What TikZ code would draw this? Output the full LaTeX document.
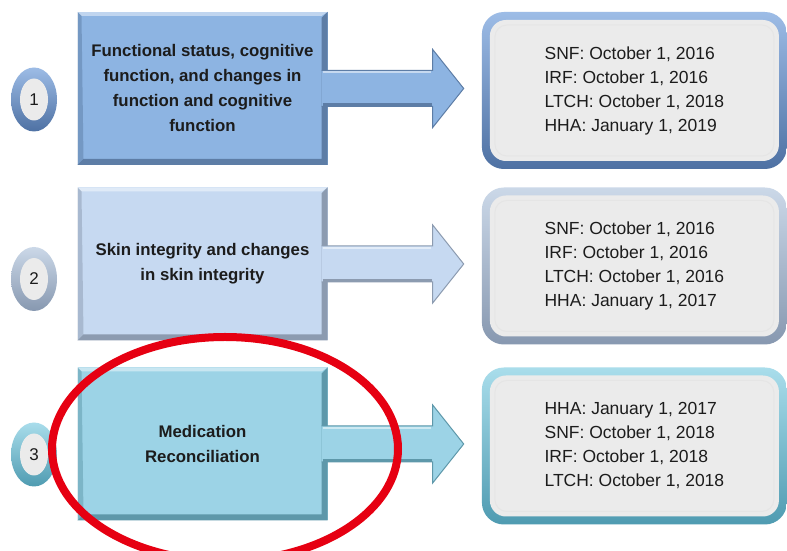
\documentclass[tikz,border=0pt]{standalone}
\usepackage{fontspec}
\setmainfont{Liberation Sans}
\usetikzlibrary{positioning,calc,shapes.geometric}

\definecolor{boxa}{HTML}{8DB4E2}
\definecolor{boxadark}{HTML}{5D7DA6}
\definecolor{boxb}{HTML}{C6D9F1}
\definecolor{boxbdark}{HTML}{8C9BB0}
\definecolor{boxc}{HTML}{9CD3E6}
\definecolor{boxcdark}{HTML}{5E98AA}
\definecolor{datefill}{HTML}{EBEBEB}
\definecolor{rimatop}{HTML}{9DBCE6}
\definecolor{rimabot}{HTML}{4E71A3}
\definecolor{rimbtop}{HTML}{CBD8E8}
\definecolor{rimbbot}{HTML}{8798B0}
\definecolor{rimctop}{HTML}{A9DDEB}
\definecolor{rimcbot}{HTML}{4F9BB1}
\definecolor{ringred}{HTML}{E60012}
\definecolor{ink}{HTML}{1C1C1C}

\newcommand{\blockarrow}[4]{%
\filldraw[fill=#3,draw=#4,line width=1pt] ($(#1.east)+(-6,18)$) -- ($(#1.east -| #2.west)+(-49,18)$) -- ($(#1.east -| #2.west)+(-49,39)$) -- ($(#1.east -| #2.west)+(-18,0)$) -- ($(#1.east -| #2.west)+(-49,-39)$) -- ($(#1.east -| #2.west)+(-49,-18)$) -- ($(#1.east)+(-6,-18)$);
\draw[white,opacity=.5,line width=2pt] ($(#1.east)+(-5,16)$) -- ($(#1.east -| #2.west)+(-51,16)$);
\draw[#4,line width=3pt] ($(#1.east)+(-5,-16.5)$) -- ($(#1.east -| #2.west)+(-50,-16.5)$);
}

\begin{document}
\begin{tikzpicture}[x=1pt,y=1pt,
  topic/.style 2 args={fill=#1,minimum width=250pt,minimum height=153pt,
    align=center,inner sep=0pt,text=ink,font=\fontsize{16.8}{25}\selectfont\bfseries,
    path picture={
      \fill[#2] (path picture bounding box.north east) -- (path picture bounding box.south east)
        -- (path picture bounding box.south west) -- ++(6,6)
        -- ($(path picture bounding box.south east)+(-6,6)$)
        -- ($(path picture bounding box.north east)+(-6,-6)$) -- cycle;
      \fill[white,opacity=.45] (path picture bounding box.north west) -- (path picture bounding box.north east)
        -- ++(-6,-4) -- ($(path picture bounding box.north west)+(4,-4)$) -- cycle;
      \fill[#2,opacity=.5] (path picture bounding box.north west) -- ++(4,-4)
        -- ($(path picture bounding box.south west)+(6,6)$) -- (path picture bounding box.south west) -- cycle;
    }},
  datebox/.style 2 args={minimum width=305pt,minimum height=157pt,rounded corners=22pt,
    top color=#1,bottom color=#2,align=left,text=ink,font=\fontsize{17.5}{24}\selectfont,
    path picture={
      \fill[datefill,rounded corners=16pt] ($(path picture bounding box.south west)+(8,8)$)
        rectangle ($(path picture bounding box.north east)+(-8,-8)$);
      \draw[white!80!gray,line width=1pt,rounded corners=12pt] ($(path picture bounding box.south west)+(13,13)$)
        rectangle ($(path picture bounding box.north east)+(-13,-13)$);
    }},
  disc/.style 2 args={ellipse,minimum width=46pt,minimum height=64pt,inner sep=0pt,
    top color=#1,bottom color=#2,text=ink,font=\fontsize{17}{20}\selectfont,
    path picture={\fill[datefill] (path picture bounding box.center) ellipse (14pt and 21pt);}}
]
\useasboundingbox[fill=white] (0,0) rectangle (787,551);

\node[topic={boxa}{boxadark}] (b1) at (202.5,462.5) {Functional status, cognitive\\function, and changes in\\function and cognitive\\function};
\node[topic={boxb}{boxbdark}] (b2) at (202.5,287) {Skin integrity and changes\\in skin integrity};
\node[topic={boxc}{boxcdark}] (b3) at (202.5,107) {Medication\\Reconciliation};

\node[datebox={rimatop}{rimabot},right=154pt of b1,yshift=-2pt] (d1) {SNF: October 1, 2016\\IRF: October 1, 2016\\LTCH: October 1, 2018\\HHA: January 1, 2019};
\node[datebox={rimbtop}{rimbbot},right=154pt of b2,yshift=-2pt] (d2) {SNF: October 1, 2016\\IRF: October 1, 2016\\LTCH: October 1, 2016\\HHA: January 1, 2017};
\node[datebox={rimctop}{rimcbot},right=154pt of b3,yshift=-2pt] (d3) {HHA: January 1, 2017\\SNF: October 1, 2018\\IRF: October 1, 2018\\LTCH: October 1, 2018};

\blockarrow{b1}{d1}{boxa}{boxadark}
\blockarrow{b2}{d2}{boxb}{boxbdark}
\blockarrow{b3}{d3}{boxc}{boxcdark}

\node[disc={rimatop}{rimabot}] (n1) at (34,451.5) {1};
\node[disc={rimbtop}{rimbbot}] (n2) at (34,272) {2};
\node[disc={rimctop}{rimcbot}] (n3) at (34,96.5) {3};

\draw[ringred,line width=8pt] (225,102) ellipse (173pt and 112pt);
\end{tikzpicture}
\end{document}
